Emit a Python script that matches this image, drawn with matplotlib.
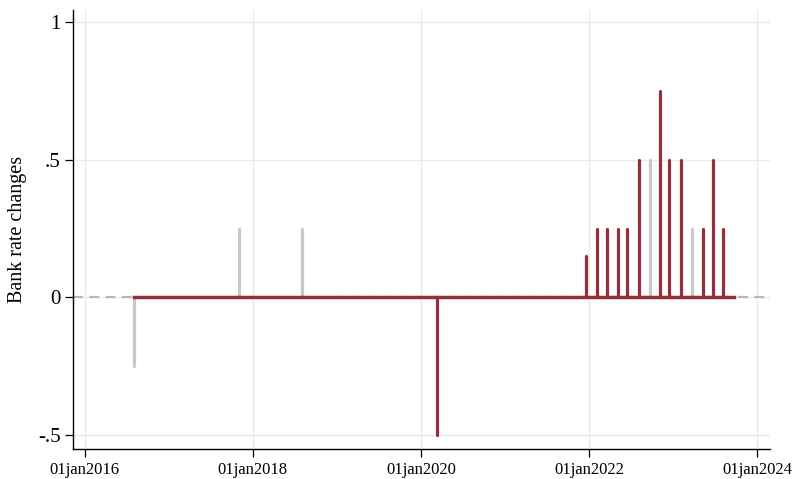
import matplotlib
matplotlib.use('Agg')
import matplotlib.pyplot as plt
import numpy as np
import pandas as pd

# Bank of England rate decisions
dates = pd.to_datetime(['2016-08-04', '2017-11-02', '2018-08-02', '2020-03-11',
                        '2021-12-16', '2022-02-03', '2022-03-17', '2022-05-05',
                        '2022-06-16', '2022-08-04', '2022-09-22', '2022-11-03',
                        '2022-12-15', '2023-02-02', '2023-03-23', '2023-05-11',
                        '2023-06-22', '2023-08-03'])
changes = [-0.25, 0.25, 0.25, -0.5,
           0.15, 0.25, 0.25, 0.25,
           0.25, 0.5, 0.5, 0.75,
           0.5, 0.5, 0.25, 0.25,
           0.5, 0.25]
highlighted = [0, 0, 0, 1,
               1, 1, 1, 1,
               1, 1, 0, 1,
               1, 1, 0, 1,
               1, 1]
line_start = pd.Timestamp('2016-08-04')
line_end = pd.Timestamp('2023-09-21')

xticks = pd.to_datetime(['2016-01-01', '2018-01-01', '2020-01-01',
                         '2022-01-01', '2024-01-01'])
xtick_labels = ['01jan2016', '01jan2018', '01jan2020', '01jan2022', '01jan2024']
yticks = [-0.5, 0, 0.5, 1]
ytick_labels = ['-.5', '0', '.5', '1']

red = '#93303B'
grey = '#C8C8C8'

plt.rcParams['font.family'] = ['Liberation Serif', 'DejaVu Serif']

fig = plt.figure(figsize=(7.93, 4.79), dpi=100)
ax = fig.add_axes([73 / 793, 30 / 479, 697 / 793, 439 / 479])

ax.axhline(0, color='#B8B8B8', linestyle=(0, (4.5, 2.8)), linewidth=1.6, zorder=1)

for d, c, h in zip(dates, changes, highlighted):
    if h:
        continue
    ax.vlines(d, 0, c, color=grey, linewidth=2.3, zorder=2, capstyle='round')
for d, c, h in zip(dates, changes, highlighted):
    if not h:
        continue
    ax.vlines(d, 0, c, color=red, linewidth=2.3, zorder=3, capstyle='round')

ax.plot([line_start, line_end], [0, 0], color=red, linewidth=2.5, zorder=4)

ax.set_xlim(pd.Timestamp('2015-11-12'), pd.Timestamp('2024-02-25'))
ax.set_ylim(-0.551, 1.044)

ax.set_xticks(xticks)
ax.set_xticklabels(xtick_labels, fontsize=12)
ax.set_yticks(yticks)
ax.set_yticklabels(ytick_labels, fontsize=15)
ax.set_ylabel('Bank rate changes', fontsize=14.5, labelpad=8)

ax.grid(True, color='#EBEBEB', linewidth=1.0, zorder=0)
ax.set_axisbelow(True)
for s in ['top', 'right']:
    ax.spines[s].set_visible(False)
for s in ['left', 'bottom']:
    ax.spines[s].set_linewidth(1.0)
ax.tick_params(direction='out', length=6, width=0.9, pad=3)

fig.savefig('out.png', dpi=100)
